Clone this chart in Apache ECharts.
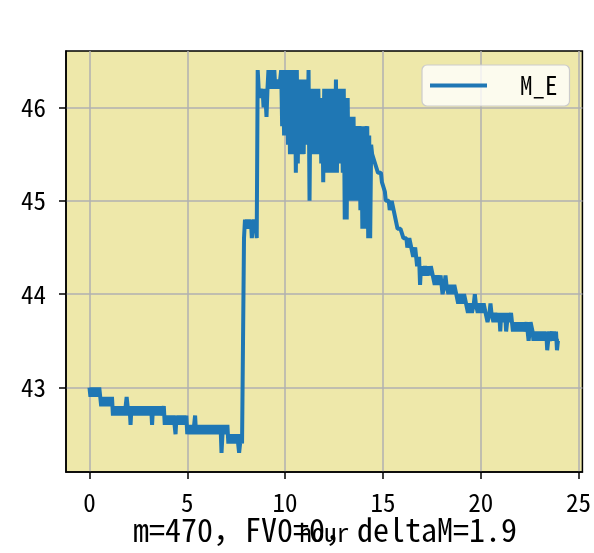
<!DOCTYPE html>
<html>
<head>
<meta charset="utf-8">
<script src="https://cdn.jsdelivr.net/npm/echarts@6/dist/echarts.min.js"></script>
<style>
html,body{margin:0;padding:0;background:#fff;}
#chart{width:594px;height:553px;}
</style>
</head>
<body>
<div id="chart"></div>
<script>
// ---- data: one reading every 0.05 h (3 min) ----
const sampleStepHours = 0.05;
const seriesName = 'M_E';
// 0.00 h .. 7.85 h
const mE_night = [
  43.0, 42.9, 43.0, 42.9, 43.0, 42.9, 43.0, 42.9, 43.0, 42.9, 43.0, 42.9,
  42.8, 42.9, 42.8, 42.9, 42.8, 42.9, 42.8, 42.9, 42.8, 42.9, 42.8, 42.9,
  42.7,
  42.8, 42.7, 42.8, 42.7, 42.8, 42.7, 42.8, 42.7, 42.8, 42.7, 42.8, 42.7, 42.8,
  42.9,
  42.8, 42.7, 42.8,
  42.6,
  42.8, 42.7, 42.8, 42.7, 42.8, 42.7, 42.8, 42.7, 42.8, 42.7, 42.8, 42.7, 42.8, 42.7, 42.8, 42.7, 42.8, 42.7, 42.8, 42.7, 42.8,
  42.6,
  42.8, 42.7, 42.8, 42.7, 42.8, 42.7, 42.8, 42.7, 42.8, 42.7, 42.7,
  42.8,
  42.6, 42.7, 42.6, 42.7, 42.6, 42.7, 42.6, 42.7, 42.6, 42.7, 42.6,
  42.5,
  42.7, 42.6, 42.7, 42.6, 42.7, 42.6, 42.7, 42.6, 42.7, 42.6, 42.7,
  42.5, 42.6, 42.5, 42.6, 42.5, 42.6, 42.5, 42.6,
  42.7,
  42.5, 42.6, 42.5, 42.6, 42.5, 42.6, 42.5, 42.6, 42.5, 42.6, 42.5, 42.6, 42.5,
  42.6, 42.5, 42.6, 42.5, 42.6, 42.5, 42.6, 42.5, 42.6, 42.5, 42.6, 42.5, 42.6,
  42.3,
  42.5, 42.6, 42.5, 42.6, 42.5, 42.6,
  42.4,
  42.5, 42.4, 42.5, 42.4, 42.5, 42.4, 42.5, 42.4, 42.5, 42.4,
  42.3,
  42.4, 42.5, 42.4, 42.4
];
// 7.90 h .. 9.75 h
const mE_jump = [
  44.6,
  44.8, 44.7, 44.8, 44.7, 44.8, 44.7, 44.8,
  44.6,
  44.7, 44.8, 44.7, 44.8,
  44.6,
  46.4,
  46.2, 46.1, 46.2, 46.1, 46.2, 46.0, 46.2, 46.1,
  45.9,
  46.2,
  46.4, 46.2, 46.4, 46.3, 46.4, 46.2, 46.4, 46.2,
  46.3, 46.2, 46.3, 46.2, 46.3
];
// 9.80 h .. 14.45 h (strong fluctuation)
const mE_noisy = [
  46.4, 45.8, 46.3, 45.7, 46.4, 45.7, 46.4, 45.6, 46.4, 45.5,
  46.3, 45.6, 46.4, 45.5, 46.4, 45.3, 46.4, 45.4, 46.3, 45.5,
  46.3, 45.6, 46.2, 45.5, 46.3, 45.6, 46.3, 45.7, 46.4, 45.0,
  46.2, 45.5, 46.2, 45.6, 46.2, 45.5, 46.1, 45.5, 46.2, 45.6,
  46.1, 45.4, 46.1, 45.2, 46.2, 45.4, 46.2, 45.3, 46.1, 45.4,
  46.2, 45.3, 46.1, 45.3, 46.2, 45.4, 46.3, 45.3, 46.2, 45.4,
  46.2, 45.5, 46.1, 45.3, 46.2, 44.8, 46.1, 44.8, 46.1, 45.1,
  45.9, 45.0, 45.9, 45.1, 45.9, 45.0, 45.8, 45.0, 45.8, 45.1,
  45.8, 44.9, 45.8, 44.7, 45.7, 44.7, 45.8, 44.9, 45.8, 44.6,
  45.7, 44.6, 45.6, 45.5
];
// 14.50 h .. 24.00 h
const mE_decline = [
  45.5, 45.5, 45.4, 45.4, 45.4, 45.3, 45.3, 45.3, 45.3, 45.2,
  45.2, 45.2, 45.1, 45.0, 45.0, 45.0, 45.0, 44.9, 44.9, 45.0,
  45.0, 44.9, 44.9, 44.8, 44.8, 44.7, 44.7, 44.7, 44.7, 44.7,
  44.7, 44.6, 44.6, 44.6, 44.6, 44.5, 44.5, 44.6, 44.6, 44.5,
  44.5, 44.4, 44.4, 44.5, 44.4, 44.3, 44.3, 44.4, 44.1, 44.3,
  44.3, 44.2, 44.2, 44.3, 44.3, 44.2, 44.2, 44.3, 44.2, 44.3,
  44.3, 44.2, 44.2, 44.1, 44.1, 44.2, 44.2, 44.1, 44.1, 44.2,
  44.1, 44.0, 44.0, 44.1, 44.2, 44.1, 44.1, 44.0, 44.0, 44.1,
  44.1, 44.0, 44.0, 44.1, 44.1, 44.0, 44.0, 43.9, 43.9, 44.0,
  44.0, 43.9, 43.9, 44.0, 44.0, 43.9, 43.9, 43.8, 43.8, 43.9,
  43.9, 43.8, 43.8, 43.9, 44.0, 43.9, 43.9, 43.8, 43.8, 43.9,
  43.9, 43.8, 43.8, 43.9, 43.9, 43.8, 43.8, 43.7, 43.7, 43.8,
  43.9, 43.8, 43.8, 43.7, 43.7, 43.8, 43.8, 43.7, 43.7, 43.8,
  43.6, 43.8, 43.7, 43.8, 43.7, 43.8, 43.6, 43.7, 43.8, 43.7,
  43.7, 43.8, 43.7, 43.6, 43.7, 43.6, 43.7, 43.6, 43.7, 43.6,
  43.7, 43.6, 43.7, 43.6, 43.7, 43.6, 43.6, 43.7, 43.6, 43.5,
  43.6, 43.7, 43.7, 43.6, 43.5, 43.6, 43.5, 43.6, 43.5, 43.6,
  43.5, 43.6, 43.5, 43.6, 43.5, 43.6, 43.5, 43.6, 43.4, 43.5,
  43.6, 43.5, 43.5, 43.6, 43.5, 43.6, 43.5, 43.6, 43.4, 43.5,
  43.5
];
const xTickValues = [0, 5, 10, 15, 20, 25];
const yTickValues = [43, 44, 45, 46];
const xLabel = 'hour';
const footText = 'm=470，FV0=0，deltaM=1.9';

// ---- build ----
const mE = [].concat(mE_night, mE_jump, mE_noisy, mE_decline);
const seriesData = mE.map((v, i) => [Math.round(i * sampleStepHours * 100) / 100, v]);

const FONT = "'Noto Sans Mono CJK SC', 'DejaVu Sans Mono', monospace";
const chart = echarts.init(document.getElementById('chart'), null, {renderer: 'canvas'});
chart.setOption({
  animation: false,
  backgroundColor: '#ffffff',
  grid: {
    left: 66, top: 51, width: 517, height: 421,
    show: true, backgroundColor: '#EEE8AA',
    borderColor: '#000000', borderWidth: 1.5
  },
  xAxis: {
    type: 'value', min: -1.2, max: 25.2,
    name: xLabel, nameLocation: 'middle', nameGap: 47,
    nameTextStyle: {fontFamily: FONT, fontSize: 25, color: '#000'},
    axisLine: {show: true, onZero: false, lineStyle: {color: '#000', width: 1.5}},
    axisTick: {show: true, length: 7, lineStyle: {color: '#000', width: 1.5}, customValues: xTickValues},
    axisLabel: {customValues: xTickValues, margin: 18, fontFamily: FONT, fontSize: 25, color: '#000'},
    splitLine: {show: true, lineStyle: {color: '#b0b0b0', width: 1.5}}
  },
  yAxis: {
    type: 'value', min: 42.095, max: 46.605,
    axisLine: {show: true, onZero: false, lineStyle: {color: '#000', width: 1.5}},
    axisTick: {show: true, length: 7, lineStyle: {color: '#000', width: 1.5}, customValues: yTickValues},
    axisLabel: {customValues: yTickValues, margin: 20, fontFamily: FONT, fontSize: 25, color: '#000'},
    splitLine: {show: true, lineStyle: {color: '#b0b0b0', width: 1.5}}
  },
  legend: {
    data: [{name: seriesName, icon: 'rect'}],
    left: 422, top: 65,
    padding: [8, 12, 8, 8],
    itemWidth: 57, itemHeight: 4,
    backgroundColor: 'rgba(255,255,255,0.8)',
    borderColor: '#cccccc', borderWidth: 1.2, borderRadius: 5,
    textStyle: {fontFamily: FONT, fontSize: 25, color: '#000', padding: [0, 0, 0, 28]}
  },
  graphic: [{
    type: 'text', x: 325, y: 530,
    style: {
      text: footText, textAlign: 'center', textVerticalAlign: 'middle',
      font: "32px 'Noto Sans Mono CJK SC', 'DejaVu Sans Mono', monospace", fill: '#000'
    },
    z: 100
  }],
  series: [{
    name: seriesName,
    type: 'line',
    data: seriesData,
    symbol: 'none', showSymbol: false,
    lineStyle: {color: '#1f77b4', width: 4},
    itemStyle: {color: '#1f77b4'},
    clip: true
  }]
});
</script>
</body>
</html>
